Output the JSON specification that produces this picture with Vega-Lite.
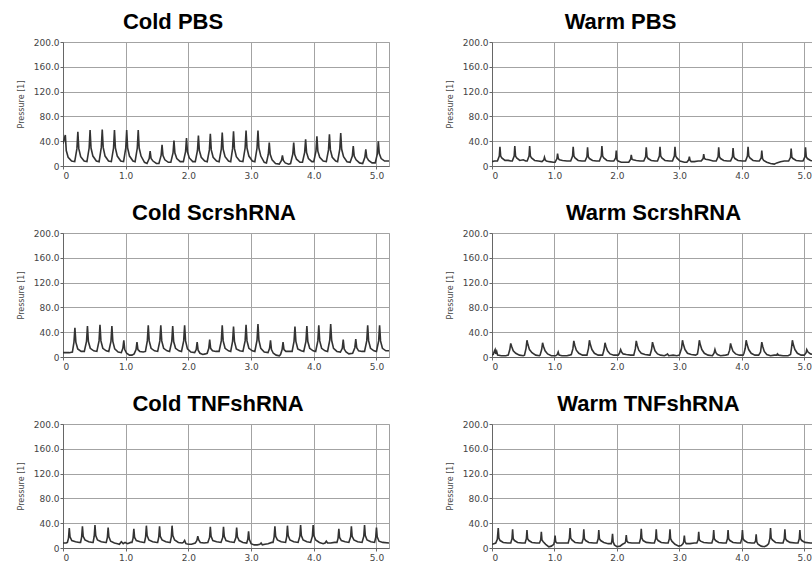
{
"$schema":"https://vega.github.io/schema/vega-lite/v6.json",
"padding":{"left":16,"top":10,"right":0,"bottom":0},
"background":"white",
"datasets":{
"cp":[{"t":0,"v":36},{"t":0.037,"v":50},{"t":0.052,"v":25},{"t":0.082,"v":14},{"t":0.137,"v":8},
{"t":0.187,"v":7},{"t":0.222,"v":28},{"t":0.237,"v":55},{"t":0.252,"v":28},{"t":0.282,"v":15},{"t":0.337,"v":8},
{"t":0.382,"v":7},{"t":0.417,"v":29},{"t":0.432,"v":58},{"t":0.447,"v":29},{"t":0.477,"v":16},{"t":0.532,"v":8},
{"t":0.576,"v":7},{"t":0.611,"v":30},{"t":0.626,"v":59},{"t":0.641,"v":30},{"t":0.671,"v":16},{"t":0.726,"v":8},
{"t":0.771,"v":7},{"t":0.806,"v":29},{"t":0.821,"v":58},{"t":0.836,"v":29},{"t":0.866,"v":16},{"t":0.921,"v":8},
{"t":0.966,"v":7},{"t":1.001,"v":29},{"t":1.016,"v":58},{"t":1.031,"v":29},{"t":1.061,"v":16},{"t":1.116,"v":8},
{"t":1.15,"v":7},{"t":1.185,"v":29},{"t":1.2,"v":58},{"t":1.215,"v":29},{"t":1.245,"v":16},{"t":1.3,"v":6},
{"t":1.34,"v":4},{"t":1.375,"v":12},{"t":1.39,"v":24},{"t":1.405,"v":12},{"t":1.435,"v":8},{"t":1.49,"v":4},
{"t":1.53,"v":4},{"t":1.565,"v":17},{"t":1.58,"v":34},{"t":1.595,"v":17},{"t":1.625,"v":10},{"t":1.68,"v":6},
{"t":1.72,"v":6},{"t":1.755,"v":21},{"t":1.77,"v":41},{"t":1.785,"v":21},{"t":1.815,"v":12},{"t":1.87,"v":7},
{"t":1.92,"v":7},{"t":1.955,"v":23},{"t":1.97,"v":45},{"t":1.985,"v":23},{"t":2.015,"v":13},{"t":2.07,"v":7},
{"t":2.11,"v":7},{"t":2.145,"v":25},{"t":2.16,"v":49},{"t":2.175,"v":25},{"t":2.205,"v":14},{"t":2.26,"v":8},
{"t":2.3,"v":7},{"t":2.335,"v":26},{"t":2.35,"v":52},{"t":2.365,"v":26},{"t":2.395,"v":14},{"t":2.45,"v":8},
{"t":2.49,"v":7},{"t":2.525,"v":27},{"t":2.54,"v":54},{"t":2.555,"v":27},{"t":2.585,"v":15},{"t":2.64,"v":8},
{"t":2.675,"v":7},{"t":2.705,"v":28},{"t":2.72,"v":56},{"t":2.735,"v":28},{"t":2.765,"v":15},{"t":2.82,"v":8},
{"t":2.87,"v":7},{"t":2.905,"v":29},{"t":2.92,"v":57},{"t":2.935,"v":29},{"t":2.965,"v":16},{"t":3.02,"v":8},
{"t":3.06,"v":7},{"t":3.095,"v":29},{"t":3.11,"v":57},{"t":3.125,"v":29},{"t":3.155,"v":16},{"t":3.21,"v":6},
{"t":3.245,"v":5},{"t":3.275,"v":19},{"t":3.29,"v":38},{"t":3.305,"v":19},{"t":3.335,"v":10},{"t":3.39,"v":4},
{"t":3.45,"v":3},{"t":3.485,"v":9},{"t":3.5,"v":17},{"t":3.515,"v":9},{"t":3.545,"v":5},{"t":3.6,"v":3},
{"t":3.63,"v":4},{"t":3.665,"v":19},{"t":3.68,"v":38},{"t":3.695,"v":19},{"t":3.725,"v":11},{"t":3.78,"v":6},
{"t":3.82,"v":6},{"t":3.855,"v":22},{"t":3.87,"v":43},{"t":3.885,"v":22},{"t":3.915,"v":12},{"t":3.97,"v":7},
{"t":4.0,"v":7},{"t":4.035,"v":24},{"t":4.05,"v":48},{"t":4.065,"v":24},{"t":4.095,"v":14},{"t":4.15,"v":8},
{"t":4.2,"v":7},{"t":4.235,"v":26},{"t":4.25,"v":51},{"t":4.265,"v":26},{"t":4.295,"v":14},{"t":4.35,"v":8},
{"t":4.38,"v":7},{"t":4.415,"v":27},{"t":4.43,"v":53},{"t":4.445,"v":27},{"t":4.475,"v":15},{"t":4.53,"v":7},
{"t":4.58,"v":6},{"t":4.615,"v":16},{"t":4.63,"v":32},{"t":4.645,"v":16},{"t":4.675,"v":10},{"t":4.73,"v":5},
{"t":4.78,"v":4},{"t":4.815,"v":14},{"t":4.83,"v":27},{"t":4.845,"v":14},{"t":4.875,"v":9},{"t":4.93,"v":5},
{"t":4.98,"v":5},{"t":5.015,"v":20},{"t":5.03,"v":40},{"t":5.045,"v":20},{"t":5.075,"v":12},{"t":5.13,"v":8},{"t":5.2,"v":8}],
"wp":[{"t":0,"v":7},{"t":0.04,"v":8},
{"t":0.087,"v":8},{"t":0.117,"v":16},{"t":0.127,"v":31},{"t":0.139,"v":16},{"t":0.157,"v":13},{"t":0.207,"v":9},{"t":0.26,"v":9},{"t":0.3,"v":8},
{"t":0.325,"v":8},{"t":0.355,"v":16},{"t":0.365,"v":32},{"t":0.377,"v":16},{"t":0.395,"v":13},{"t":0.445,"v":9},{"t":0.5,"v":10},{"t":0.54,"v":8},
{"t":0.563,"v":8},{"t":0.593,"v":16},{"t":0.603,"v":32},{"t":0.615,"v":16},{"t":0.633,"v":13},{"t":0.683,"v":9},{"t":0.74,"v":8},
{"t":0.8,"v":7},{"t":0.83,"v":10},{"t":0.84,"v":14},{"t":0.852,"v":10},{"t":0.87,"v":8},{"t":0.92,"v":7},{"t":0.98,"v":6},
{"t":1.01,"v":6},{"t":1.04,"v":12},{"t":1.05,"v":20},{"t":1.062,"v":12},{"t":1.08,"v":10},{"t":1.13,"v":9},{"t":1.2,"v":8},
{"t":1.26,"v":8},{"t":1.29,"v":16},{"t":1.3,"v":31},{"t":1.312,"v":16},{"t":1.33,"v":13},{"t":1.38,"v":9},{"t":1.44,"v":8},
{"t":1.49,"v":8},{"t":1.52,"v":15},{"t":1.53,"v":30},{"t":1.542,"v":15},{"t":1.56,"v":12},{"t":1.61,"v":9},{"t":1.67,"v":8},
{"t":1.72,"v":8},{"t":1.75,"v":16},{"t":1.76,"v":32},{"t":1.772,"v":16},{"t":1.79,"v":13},{"t":1.84,"v":9},{"t":1.9,"v":8},
{"t":1.95,"v":8},{"t":1.98,"v":13},{"t":1.99,"v":25},{"t":2.002,"v":10},{"t":2.02,"v":8},{"t":2.07,"v":6},{"t":2.14,"v":6},
{"t":2.19,"v":6},{"t":2.22,"v":11},{"t":2.23,"v":18},{"t":2.242,"v":11},{"t":2.26,"v":10},{"t":2.31,"v":9},{"t":2.37,"v":8},
{"t":2.43,"v":8},{"t":2.46,"v":15},{"t":2.47,"v":30},{"t":2.482,"v":15},{"t":2.5,"v":12},{"t":2.55,"v":9},{"t":2.61,"v":8},
{"t":2.65,"v":8},{"t":2.68,"v":16},{"t":2.69,"v":31},{"t":2.702,"v":16},{"t":2.72,"v":13},{"t":2.77,"v":9},{"t":2.84,"v":8},
{"t":2.89,"v":8},{"t":2.92,"v":16},{"t":2.93,"v":31},{"t":2.942,"v":16},{"t":2.96,"v":13},{"t":3.01,"v":8},{"t":3.08,"v":6},
{"t":3.12,"v":6},{"t":3.15,"v":10},{"t":3.16,"v":15},{"t":3.172,"v":9},{"t":3.19,"v":7},{"t":3.24,"v":7},{"t":3.3,"v":8},
{"t":3.35,"v":8},{"t":3.38,"v":12},{"t":3.39,"v":19},{"t":3.402,"v":12},{"t":3.42,"v":11},{"t":3.47,"v":10},{"t":3.54,"v":8},
{"t":3.59,"v":8},{"t":3.62,"v":15},{"t":3.63,"v":30},{"t":3.642,"v":15},{"t":3.66,"v":12},{"t":3.71,"v":9},{"t":3.77,"v":8},
{"t":3.82,"v":8},{"t":3.85,"v":15},{"t":3.86,"v":29},{"t":3.872,"v":15},{"t":3.89,"v":12},{"t":3.94,"v":9},{"t":4.01,"v":8},
{"t":4.06,"v":8},{"t":4.09,"v":16},{"t":4.1,"v":31},{"t":4.112,"v":16},{"t":4.13,"v":13},{"t":4.18,"v":9},{"t":4.24,"v":8},
{"t":4.28,"v":8},{"t":4.31,"v":13},{"t":4.32,"v":25},{"t":4.332,"v":12},{"t":4.35,"v":9},{"t":4.4,"v":6},{"t":4.46,"v":4},{"t":4.52,"v":3},{"t":4.56,"v":5},{"t":4.62,"v":7},{"t":4.68,"v":8},{"t":4.72,"v":8},
{"t":4.75,"v":8},{"t":4.78,"v":14},{"t":4.79,"v":28},{"t":4.802,"v":14},{"t":4.82,"v":12},{"t":4.87,"v":9},{"t":4.94,"v":8},
{"t":4.98,"v":8},{"t":5.01,"v":15},{"t":5.02,"v":30},{"t":5.032,"v":15},{"t":5.05,"v":12},{"t":5.1,"v":9},{"t":5.15,"v":8}],
"cs":[{"t":0,"v":7},{"t":0.1,"v":7},{"t":0.15,"v":8},
{"t":0.175,"v":24},{"t":0.19,"v":47},{"t":0.205,"v":24},{"t":0.235,"v":13},{"t":0.29,"v":9},
{"t":0.34,"v":9},{"t":0.375,"v":25},{"t":0.39,"v":50},{"t":0.405,"v":25},{"t":0.435,"v":14},{"t":0.49,"v":10},
{"t":0.54,"v":9},{"t":0.575,"v":26},{"t":0.59,"v":52},{"t":0.605,"v":26},{"t":0.635,"v":14},{"t":0.69,"v":10},
{"t":0.73,"v":9},{"t":0.765,"v":25},{"t":0.78,"v":50},{"t":0.795,"v":25},{"t":0.825,"v":13},{"t":0.88,"v":8},
{"t":0.93,"v":7},{"t":0.955,"v":14},{"t":0.97,"v":27},{"t":0.985,"v":12},{"t":1.015,"v":6},{"t":1.06,"v":3},{"t":1.1,"v":3},
{"t":1.135,"v":5},{"t":1.165,"v":12},{"t":1.18,"v":24},{"t":1.195,"v":12},{"t":1.225,"v":9},{"t":1.28,"v":8},
{"t":1.315,"v":9},{"t":1.345,"v":26},{"t":1.36,"v":51},{"t":1.375,"v":26},{"t":1.405,"v":14},{"t":1.46,"v":10},
{"t":1.51,"v":9},{"t":1.545,"v":26},{"t":1.56,"v":51},{"t":1.575,"v":26},{"t":1.605,"v":14},{"t":1.66,"v":10},
{"t":1.7,"v":9},{"t":1.735,"v":25},{"t":1.75,"v":50},{"t":1.765,"v":25},{"t":1.795,"v":14},{"t":1.85,"v":10},
{"t":1.89,"v":9},{"t":1.925,"v":26},{"t":1.94,"v":51},{"t":1.955,"v":26},{"t":1.985,"v":13},{"t":2.04,"v":8},
{"t":2.1,"v":7},{"t":2.125,"v":12},{"t":2.14,"v":24},{"t":2.155,"v":11},{"t":2.185,"v":6},{"t":2.23,"v":4},{"t":2.27,"v":5},
{"t":2.3,"v":6},{"t":2.325,"v":14},{"t":2.34,"v":28},{"t":2.355,"v":14},{"t":2.385,"v":10},{"t":2.44,"v":9},
{"t":2.49,"v":9},{"t":2.525,"v":26},{"t":2.54,"v":51},{"t":2.555,"v":26},{"t":2.585,"v":14},{"t":2.64,"v":10},
{"t":2.675,"v":9},{"t":2.705,"v":25},{"t":2.72,"v":49},{"t":2.735,"v":25},{"t":2.765,"v":13},{"t":2.82,"v":10},
{"t":2.87,"v":9},{"t":2.905,"v":26},{"t":2.92,"v":52},{"t":2.935,"v":26},{"t":2.965,"v":14},{"t":3.02,"v":10},
{"t":3.06,"v":9},{"t":3.095,"v":27},{"t":3.11,"v":53},{"t":3.125,"v":27},{"t":3.155,"v":14},{"t":3.21,"v":8},
{"t":3.27,"v":7},{"t":3.295,"v":14},{"t":3.31,"v":27},{"t":3.325,"v":12},{"t":3.355,"v":6},{"t":3.4,"v":3},{"t":3.45,"v":2},
{"t":3.47,"v":4},{"t":3.495,"v":12},{"t":3.51,"v":24},{"t":3.525,"v":12},{"t":3.555,"v":9},{"t":3.61,"v":9},
{"t":3.655,"v":9},{"t":3.685,"v":25},{"t":3.7,"v":49},{"t":3.715,"v":25},{"t":3.745,"v":13},{"t":3.8,"v":10},
{"t":3.84,"v":9},{"t":3.875,"v":25},{"t":3.89,"v":50},{"t":3.905,"v":25},{"t":3.935,"v":14},{"t":3.99,"v":10},
{"t":4.03,"v":9},{"t":4.065,"v":26},{"t":4.08,"v":51},{"t":4.095,"v":26},{"t":4.125,"v":14},{"t":4.18,"v":10},
{"t":4.22,"v":9},{"t":4.255,"v":27},{"t":4.27,"v":53},{"t":4.285,"v":27},{"t":4.315,"v":14},{"t":4.37,"v":9},
{"t":4.425,"v":8},{"t":4.455,"v":14},{"t":4.47,"v":28},{"t":4.485,"v":13},{"t":4.515,"v":8},{"t":4.56,"v":5},
{"t":4.62,"v":6},{"t":4.655,"v":15},{"t":4.67,"v":29},{"t":4.685,"v":15},{"t":4.715,"v":10},{"t":4.77,"v":9},
{"t":4.81,"v":9},{"t":4.845,"v":26},{"t":4.86,"v":51},{"t":4.875,"v":26},{"t":4.905,"v":14},{"t":4.96,"v":10},
{"t":5.0,"v":9},{"t":5.035,"v":26},{"t":5.05,"v":51},{"t":5.065,"v":26},{"t":5.095,"v":14},{"t":5.15,"v":10},{"t":5.2,"v":10}],
"ws":[{"t":0,"v":3},{"t":0.02,"v":4},{"t":0.04,"v":10},{"t":0.05,"v":12},{"t":0.06,"v":5},{"t":0.075,"v":9},{"t":0.09,"v":3},{"t":0.15,"v":2},{"t":0.22,"v":2},
{"t":0.26,"v":3},{"t":0.285,"v":12},{"t":0.3,"v":22},{"t":0.315,"v":17},{"t":0.34,"v":10},{"t":0.38,"v":6},{"t":0.44,"v":3},{"t":0.5,"v":2},
{"t":0.52,"v":3},{"t":0.545,"v":14},{"t":0.56,"v":27},{"t":0.575,"v":20},{"t":0.6,"v":12},{"t":0.64,"v":7},{"t":0.7,"v":3},{"t":0.76,"v":2},
{"t":0.77,"v":3},{"t":0.795,"v":12},{"t":0.81,"v":23},{"t":0.825,"v":17},{"t":0.85,"v":10},{"t":0.89,"v":5},{"t":0.95,"v":2},{"t":1.02,"v":2},
{"t":1.045,"v":4},{"t":1.06,"v":8},{"t":1.075,"v":3},{"t":1.12,"v":2},{"t":1.2,"v":2},{"t":1.24,"v":3},
{"t":1.27,"v":4},{"t":1.295,"v":13},{"t":1.31,"v":26},{"t":1.325,"v":19},{"t":1.35,"v":11},{"t":1.39,"v":6},{"t":1.45,"v":3},{"t":1.51,"v":3},
{"t":1.52,"v":3},{"t":1.545,"v":14},{"t":1.56,"v":27},{"t":1.575,"v":20},{"t":1.6,"v":12},{"t":1.64,"v":6},{"t":1.7,"v":3},{"t":1.76,"v":3},
{"t":1.77,"v":3},{"t":1.795,"v":12},{"t":1.81,"v":23},{"t":1.825,"v":17},{"t":1.85,"v":10},{"t":1.89,"v":5},{"t":1.95,"v":3},{"t":2.02,"v":3},
{"t":2.04,"v":6},{"t":2.06,"v":12},{"t":2.075,"v":8},{"t":2.1,"v":5},{"t":2.15,"v":4},{"t":2.22,"v":3},
{"t":2.27,"v":3},{"t":2.295,"v":13},{"t":2.31,"v":26},{"t":2.325,"v":19},{"t":2.35,"v":11},{"t":2.39,"v":6},{"t":2.45,"v":4},{"t":2.52,"v":3},
{"t":2.53,"v":3},{"t":2.555,"v":12},{"t":2.57,"v":24},{"t":2.585,"v":18},{"t":2.61,"v":10},{"t":2.65,"v":5},{"t":2.7,"v":3},{"t":2.76,"v":2},
{"t":2.8,"v":4},{"t":2.81,"v":5},{"t":2.83,"v":2},{"t":2.9,"v":3},{"t":2.96,"v":2},{"t":3.0,"v":3},
{"t":3.035,"v":14},{"t":3.05,"v":27},{"t":3.065,"v":20},{"t":3.09,"v":12},{"t":3.13,"v":6},{"t":3.19,"v":4},{"t":3.26,"v":3},
{"t":3.29,"v":5},{"t":3.305,"v":14},{"t":3.32,"v":27},{"t":3.335,"v":20},{"t":3.36,"v":12},{"t":3.4,"v":6},{"t":3.46,"v":3},{"t":3.53,"v":2},
{"t":3.555,"v":6},{"t":3.57,"v":12},{"t":3.585,"v":7},{"t":3.61,"v":4},{"t":3.66,"v":2},{"t":3.74,"v":3},
{"t":3.78,"v":4},{"t":3.805,"v":11},{"t":3.82,"v":22},{"t":3.835,"v":16},{"t":3.86,"v":9},{"t":3.9,"v":5},{"t":3.96,"v":3},{"t":4.02,"v":3},
{"t":4.035,"v":6},{"t":4.055,"v":14},{"t":4.07,"v":27},{"t":4.085,"v":20},{"t":4.11,"v":12},{"t":4.15,"v":6},{"t":4.21,"v":3},{"t":4.27,"v":3},
{"t":4.3,"v":8},{"t":4.32,"v":24},{"t":4.335,"v":17},{"t":4.36,"v":9},{"t":4.4,"v":4},{"t":4.46,"v":2},{"t":4.52,"v":3},
{"t":4.56,"v":3},{"t":4.57,"v":5},{"t":4.59,"v":3},{"t":4.66,"v":2},{"t":4.74,"v":2},
{"t":4.78,"v":4},{"t":4.795,"v":14},{"t":4.81,"v":27},{"t":4.825,"v":20},{"t":4.85,"v":12},{"t":4.89,"v":6},{"t":4.95,"v":3},{"t":5.0,"v":3},
{"t":5.03,"v":7},{"t":5.04,"v":12},{"t":5.06,"v":8},{"t":5.1,"v":5},{"t":5.15,"v":4}],
"ct":[{"t":0,"v":8},{"t":0.05,"v":8},
{"t":0.07,"v":9},{"t":0.088,"v":16},{"t":0.1,"v":32},{"t":0.112,"v":18},{"t":0.14,"v":12},{"t":0.2,"v":10},{"t":0.26,"v":9},
{"t":0.28,"v":9},{"t":0.298,"v":18},{"t":0.31,"v":35},{"t":0.322,"v":19},{"t":0.35,"v":13},{"t":0.41,"v":10},{"t":0.47,"v":9},
{"t":0.48,"v":9},{"t":0.498,"v":19},{"t":0.51,"v":37},{"t":0.522,"v":20},{"t":0.55,"v":13},{"t":0.61,"v":10},{"t":0.68,"v":9},
{"t":0.69,"v":9},{"t":0.708,"v":17},{"t":0.72,"v":33},{"t":0.732,"v":18},{"t":0.76,"v":11},{"t":0.82,"v":8},{"t":0.87,"v":7},
{"t":0.9,"v":6},{"t":0.93,"v":10},{"t":0.96,"v":7},{"t":0.99,"v":9},{"t":1.03,"v":7},{"t":1.08,"v":9},
{"t":1.1,"v":9},{"t":1.118,"v":16},{"t":1.13,"v":31},{"t":1.142,"v":17},{"t":1.17,"v":12},{"t":1.23,"v":10},{"t":1.29,"v":9},
{"t":1.3,"v":9},{"t":1.318,"v":18},{"t":1.33,"v":36},{"t":1.342,"v":20},{"t":1.37,"v":13},{"t":1.43,"v":10},{"t":1.5,"v":9},
{"t":1.51,"v":9},{"t":1.528,"v":18},{"t":1.54,"v":35},{"t":1.552,"v":19},{"t":1.58,"v":13},{"t":1.64,"v":10},{"t":1.7,"v":9},
{"t":1.71,"v":9},{"t":1.728,"v":18},{"t":1.74,"v":36},{"t":1.752,"v":20},{"t":1.78,"v":13},{"t":1.84,"v":9},{"t":1.9,"v":8},
{"t":1.92,"v":9},{"t":1.94,"v":12},{"t":1.96,"v":7},{"t":2.0,"v":6},{"t":2.05,"v":6},{"t":2.11,"v":8},
{"t":2.135,"v":12},{"t":2.15,"v":19},{"t":2.165,"v":13},{"t":2.19,"v":9},{"t":2.25,"v":8},{"t":2.31,"v":9},
{"t":2.338,"v":17},{"t":2.35,"v":34},{"t":2.362,"v":19},{"t":2.39,"v":12},{"t":2.45,"v":10},{"t":2.52,"v":9},
{"t":2.548,"v":17},{"t":2.56,"v":34},{"t":2.572,"v":19},{"t":2.6,"v":12},{"t":2.66,"v":10},{"t":2.73,"v":9},
{"t":2.758,"v":17},{"t":2.77,"v":33},{"t":2.782,"v":18},{"t":2.81,"v":12},{"t":2.87,"v":9},{"t":2.93,"v":8},
{"t":2.948,"v":14},{"t":2.96,"v":27},{"t":2.972,"v":14},{"t":3.0,"v":7},{"t":3.05,"v":5},{"t":3.1,"v":5},
{"t":3.14,"v":6},{"t":3.16,"v":8},{"t":3.18,"v":5},{"t":3.22,"v":6},{"t":3.27,"v":7},{"t":3.33,"v":9},
{"t":3.35,"v":9},{"t":3.368,"v":18},{"t":3.38,"v":35},{"t":3.392,"v":19},{"t":3.42,"v":13},{"t":3.48,"v":10},{"t":3.55,"v":9},
{"t":3.568,"v":18},{"t":3.58,"v":36},{"t":3.592,"v":20},{"t":3.62,"v":13},{"t":3.68,"v":10},{"t":3.75,"v":9},
{"t":3.778,"v":19},{"t":3.79,"v":37},{"t":3.802,"v":20},{"t":3.83,"v":13},{"t":3.89,"v":10},{"t":3.95,"v":9},
{"t":3.978,"v":19},{"t":3.99,"v":37},{"t":4.002,"v":20},{"t":4.03,"v":13},{"t":4.09,"v":9},{"t":4.15,"v":7},
{"t":4.18,"v":8},{"t":4.2,"v":11},{"t":4.22,"v":8},{"t":4.27,"v":8},{"t":4.33,"v":9},{"t":4.37,"v":9},
{"t":4.388,"v":16},{"t":4.4,"v":31},{"t":4.412,"v":17},{"t":4.44,"v":12},{"t":4.5,"v":10},{"t":4.56,"v":9},
{"t":4.588,"v":18},{"t":4.6,"v":35},{"t":4.612,"v":19},{"t":4.64,"v":13},{"t":4.7,"v":10},{"t":4.77,"v":9},
{"t":4.798,"v":19},{"t":4.81,"v":37},{"t":4.822,"v":20},{"t":4.85,"v":13},{"t":4.91,"v":10},{"t":4.97,"v":9},
{"t":4.988,"v":17},{"t":5.0,"v":33},{"t":5.012,"v":18},{"t":5.04,"v":11},{"t":5.1,"v":9},{"t":5.2,"v":8}],
"wt":[{"t":0,"v":6},{"t":0.03,"v":7},{"t":0.06,"v":8},
{"t":0.085,"v":14},{"t":0.1,"v":32},{"t":0.11,"v":16},{"t":0.13,"v":12},{"t":0.18,"v":9},{"t":0.25,"v":8},
{"t":0.3,"v":8},{"t":0.32,"v":15},{"t":0.33,"v":30},{"t":0.34,"v":15},{"t":0.36,"v":12},{"t":0.41,"v":9},{"t":0.48,"v":8},
{"t":0.53,"v":8},{"t":0.55,"v":15},{"t":0.56,"v":29},{"t":0.57,"v":15},{"t":0.59,"v":12},{"t":0.64,"v":9},{"t":0.71,"v":8},
{"t":0.76,"v":8},{"t":0.78,"v":13},{"t":0.79,"v":26},{"t":0.8,"v":13},{"t":0.82,"v":10},{"t":0.86,"v":6},{"t":0.91,"v":2},{"t":0.95,"v":3},
{"t":0.99,"v":6},{"t":1.0,"v":11},{"t":1.01,"v":20},{"t":1.02,"v":10},{"t":1.04,"v":8},{"t":1.09,"v":8},{"t":1.16,"v":8},
{"t":1.22,"v":8},{"t":1.24,"v":16},{"t":1.25,"v":32},{"t":1.26,"v":16},{"t":1.28,"v":13},{"t":1.33,"v":9},{"t":1.4,"v":8},
{"t":1.44,"v":8},{"t":1.46,"v":15},{"t":1.47,"v":30},{"t":1.48,"v":15},{"t":1.5,"v":12},{"t":1.55,"v":9},{"t":1.63,"v":8},
{"t":1.68,"v":8},{"t":1.7,"v":15},{"t":1.71,"v":29},{"t":1.72,"v":15},{"t":1.74,"v":12},{"t":1.79,"v":9},{"t":1.86,"v":7},
{"t":1.91,"v":7},{"t":1.92,"v":12},{"t":1.93,"v":23},{"t":1.94,"v":10},{"t":1.96,"v":5},{"t":2.0,"v":2},{"t":2.05,"v":3},{"t":2.09,"v":6},
{"t":2.13,"v":8},{"t":2.14,"v":11},{"t":2.15,"v":21},{"t":2.16,"v":11},{"t":2.18,"v":9},{"t":2.24,"v":8},{"t":2.32,"v":8},
{"t":2.36,"v":8},{"t":2.38,"v":16},{"t":2.39,"v":31},{"t":2.4,"v":16},{"t":2.42,"v":12},{"t":2.47,"v":9},{"t":2.56,"v":8},
{"t":2.6,"v":8},{"t":2.62,"v":15},{"t":2.63,"v":30},{"t":2.64,"v":15},{"t":2.66,"v":12},{"t":2.71,"v":9},{"t":2.78,"v":8},
{"t":2.82,"v":8},{"t":2.84,"v":15},{"t":2.85,"v":30},{"t":2.86,"v":15},{"t":2.88,"v":11},{"t":2.93,"v":6},{"t":2.99,"v":3},{"t":3.03,"v":4},
{"t":3.06,"v":7},{"t":3.07,"v":11},{"t":3.08,"v":20},{"t":3.09,"v":10},{"t":3.11,"v":7},{"t":3.17,"v":7},{"t":3.24,"v":8},
{"t":3.28,"v":8},{"t":3.3,"v":13},{"t":3.31,"v":26},{"t":3.32,"v":13},{"t":3.34,"v":11},{"t":3.39,"v":9},{"t":3.47,"v":8},
{"t":3.52,"v":8},{"t":3.54,"v":15},{"t":3.55,"v":29},{"t":3.56,"v":15},{"t":3.58,"v":12},{"t":3.63,"v":9},{"t":3.7,"v":8},
{"t":3.75,"v":8},{"t":3.77,"v":15},{"t":3.78,"v":29},{"t":3.79,"v":15},{"t":3.81,"v":12},{"t":3.86,"v":9},{"t":3.93,"v":8},
{"t":3.98,"v":8},{"t":4.0,"v":15},{"t":4.01,"v":29},{"t":4.02,"v":15},{"t":4.04,"v":12},{"t":4.09,"v":9},{"t":4.16,"v":8},
{"t":4.2,"v":8},{"t":4.22,"v":11},{"t":4.23,"v":22},{"t":4.24,"v":10},{"t":4.26,"v":6},{"t":4.31,"v":3},{"t":4.36,"v":2},{"t":4.4,"v":4},
{"t":4.43,"v":7},{"t":4.45,"v":16},{"t":4.46,"v":32},{"t":4.47,"v":16},{"t":4.49,"v":13},{"t":4.54,"v":9},{"t":4.62,"v":8},
{"t":4.66,"v":8},{"t":4.68,"v":15},{"t":4.69,"v":30},{"t":4.7,"v":15},{"t":4.72,"v":12},{"t":4.77,"v":9},{"t":4.86,"v":8},
{"t":4.9,"v":8},{"t":4.92,"v":15},{"t":4.93,"v":29},{"t":4.94,"v":15},{"t":4.96,"v":12},{"t":5.01,"v":9},{"t":5.1,"v":8},{"t":5.15,"v":8}]
},
"spacing":20,
"vconcat":[
 {"hconcat":[
  {"data":{"name":"cp"},"width":326,"height":124,"title":{"text":"Cold PBS","dx":-53},
   "mark":{"type":"line","clip":true},
   "encoding":{"x":{"field":"t","type":"quantitative","scale":{"domain":[0,5.2],"nice":false,"zero":false},"axis":{"values":[0,1,2,3,4,5],"labelExpr":"datum.value == 0 ? '0' : format(datum.value, '.1f')","title":null}},
    "y":{"field":"v","type":"quantitative","scale":{"domain":[0,200],"nice":false},"axis":{"values":[0,40,80,120,160,200],"labelExpr":"datum.value == 0 ? '0' : format(datum.value, '.1f')","title":"Pressure [1]"}}}},
  {"data":{"name":"wp"},"width":321,"height":124,"title":{"text":"Warm PBS","dx":-32},
   "mark":{"type":"line","clip":true},
   "encoding":{"x":{"field":"t","type":"quantitative","scale":{"domain":[0,5.14],"nice":false,"zero":false},"axis":{"values":[0,1,2,3,4,5],"labelExpr":"datum.value == 0 ? '0' : format(datum.value, '.1f')","title":null}},
    "y":{"field":"v","type":"quantitative","scale":{"domain":[0,200],"nice":false},"axis":{"values":[0,40,80,120,160,200],"labelExpr":"datum.value == 0 ? '0' : format(datum.value, '.1f')","title":"Pressure [1]"}}}}
 ],"spacing":55},
 {"hconcat":[
  {"data":{"name":"cs"},"width":326,"height":124,"title":{"text":"Cold ScrshRNA","dx":-12},
   "mark":{"type":"line","clip":true},
   "encoding":{"x":{"field":"t","type":"quantitative","scale":{"domain":[0,5.2],"nice":false,"zero":false},"axis":{"values":[0,1,2,3,4,5],"labelExpr":"datum.value == 0 ? '0' : format(datum.value, '.1f')","title":null}},
    "y":{"field":"v","type":"quantitative","scale":{"domain":[0,200],"nice":false},"axis":{"values":[0,40,80,120,160,200],"labelExpr":"datum.value == 0 ? '0' : format(datum.value, '.1f')","title":"Pressure [1]"}}}},
  {"data":{"name":"ws"},"width":321,"height":124,"title":{"text":"Warm ScrshRNA","dx":1},
   "mark":{"type":"line","clip":true},
   "encoding":{"x":{"field":"t","type":"quantitative","scale":{"domain":[0,5.14],"nice":false,"zero":false},"axis":{"values":[0,1,2,3,4,5],"labelExpr":"datum.value == 0 ? '0' : format(datum.value, '.1f')","title":null}},
    "y":{"field":"v","type":"quantitative","scale":{"domain":[0,200],"nice":false},"axis":{"values":[0,40,80,120,160,200],"labelExpr":"datum.value == 0 ? '0' : format(datum.value, '.1f')","title":"Pressure [1]"}}}}
 ],"spacing":55},
 {"hconcat":[
  {"data":{"name":"ct"},"width":326,"height":124,"title":{"text":"Cold TNFshRNA","dx":-8},
   "mark":{"type":"line","clip":true},
   "encoding":{"x":{"field":"t","type":"quantitative","scale":{"domain":[0,5.2],"nice":false,"zero":false},"axis":{"values":[0,1,2,3,4,5],"labelExpr":"datum.value == 0 ? '0' : format(datum.value, '.1f')","title":null}},
    "y":{"field":"v","type":"quantitative","scale":{"domain":[0,200],"nice":false},"axis":{"values":[0,40,80,120,160,200],"labelExpr":"datum.value == 0 ? '0' : format(datum.value, '.1f')","title":"Pressure [1]"}}}},
  {"data":{"name":"wt"},"width":321,"height":124,"title":{"text":"Warm TNFshRNA","dx":-4},
   "mark":{"type":"line","clip":true},
   "encoding":{"x":{"field":"t","type":"quantitative","scale":{"domain":[0,5.14],"nice":false,"zero":false},"axis":{"values":[0,1,2,3,4,5],"labelExpr":"datum.value == 0 ? '0' : format(datum.value, '.1f')","title":null}},
    "y":{"field":"v","type":"quantitative","scale":{"domain":[0,200],"nice":false},"axis":{"values":[0,40,80,120,160,200],"labelExpr":"datum.value == 0 ? '0' : format(datum.value, '.1f')","title":"Pressure [1]"}}}}
 ],"spacing":55}
],
"config":{
 "font":"Liberation Sans",
 "view":{"stroke":"#a0a0a0"},
 "axis":{"gridColor":"#a3a3a3","gridWidth":1,"gridOpacity":1,"domainColor":"#666","tickColor":"#666","tickSize":3,"labelColor":"#444","labelFont":"DejaVu Sans","labelFontSize":9,"labelPadding":1,"titleFont":"DejaVu Sans","titleFontSize":8,"titleFontWeight":"normal","titleColor":"#444","titlePadding":8},
 "axisX":{"labelPadding":2},
 "title":{"font":"Liberation Sans","fontSize":22,"fontWeight":"bold","color":"#000","anchor":"middle","baseline":"alphabetic","offset":4},
 "line":{"color":"#333","strokeWidth":1.6}
}
}
